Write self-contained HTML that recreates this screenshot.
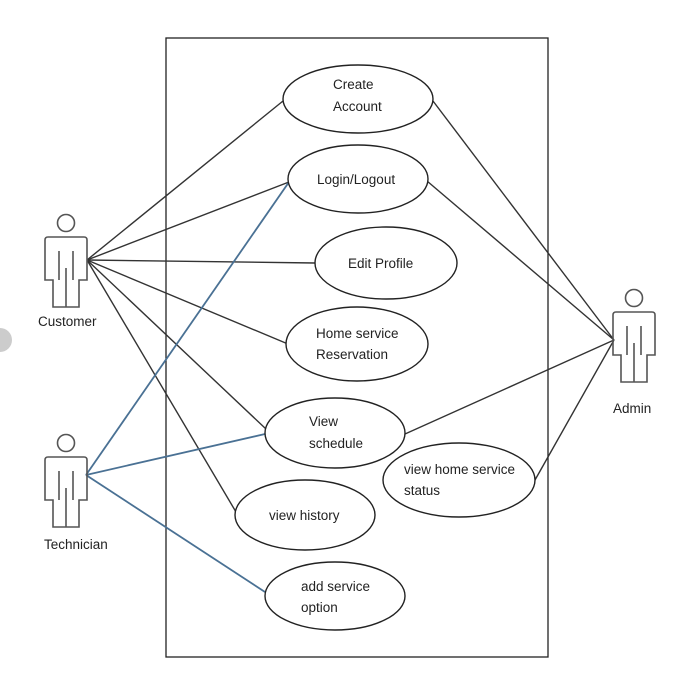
<!DOCTYPE html>
<html><head><style>
body{margin:0;background:#fff;}
svg text{font-family:"Liberation Sans",sans-serif;font-size:13.5px;fill:#222;}
</style></head><body>
<svg width="699" height="681" viewBox="0 0 699 681" xmlns="http://www.w3.org/2000/svg">
<defs>
<g id="actor" fill="none" stroke="#555" stroke-width="1.6">
<circle cx="0" cy="-14" r="8.5"/>
<path d="M-21,3 Q-21,0 -18,0 L18,0 Q21,0 21,3 L21,43 L13,43 L13,70 L-13,70 L-13,43 L-21,43 Z"/>
<path d="M-7,14 V43 M7,14 V43 M0,31 V70"/>
</g>
</defs>
<circle cx="0" cy="340" r="12" fill="#ccc"/>
<rect x="166" y="38" width="382" height="619" fill="none" stroke="#222" stroke-width="1.3"/>
<g stroke="#333" stroke-width="1.4">
<line x1="87" y1="260" x2="283" y2="101"/>
<line x1="87" y1="260" x2="289" y2="182"/>
<line x1="87" y1="260" x2="315" y2="263"/>
<line x1="87" y1="260" x2="288" y2="344"/>
<line x1="87" y1="260" x2="266" y2="429"/>
<line x1="87" y1="260" x2="236" y2="512"/>
<line x1="614" y1="340" x2="433" y2="101"/>
<line x1="614" y1="340" x2="427" y2="181"/>
<line x1="614" y1="340" x2="405" y2="434"/>
<line x1="614" y1="340" x2="535" y2="480"/>
</g>
<g stroke="#4a7194" stroke-width="1.8">
<line x1="86" y1="475" x2="289" y2="182"/>
<line x1="86" y1="475" x2="265" y2="434"/>
<line x1="86" y1="475" x2="265" y2="592"/>
</g>
<g fill="#fff" stroke="#222" stroke-width="1.4">
<ellipse cx="358" cy="99" rx="75" ry="34"/>
<ellipse cx="358" cy="179" rx="70" ry="34"/>
<ellipse cx="386" cy="263" rx="71" ry="36"/>
<ellipse cx="357" cy="344" rx="71" ry="37"/>
<ellipse cx="335" cy="433" rx="70" ry="35"/>
<ellipse cx="459" cy="480" rx="76" ry="37"/>
<ellipse cx="305" cy="515" rx="70" ry="35"/>
<ellipse cx="335" cy="596" rx="70" ry="34"/>
</g>
<use href="#actor" x="66" y="237"/>
<use href="#actor" x="66" y="457"/>
<use href="#actor" x="634" y="312"/>
<text x="38" y="326">Customer</text>
<text x="44" y="549">Technician</text>
<text x="613" y="413">Admin</text>
<text x="333" y="89">Create</text>
<text x="333" y="111">Account</text>
<text x="317" y="184">Login/Logout</text>
<text x="348" y="268">Edit Profile</text>
<text x="316" y="338">Home service</text>
<text x="316" y="359">Reservation</text>
<text x="309" y="426">View</text>
<text x="309" y="448">schedule</text>
<text x="404" y="474">view home service</text>
<text x="404" y="495">status</text>
<text x="269" y="520">view history</text>
<text x="301" y="591">add service</text>
<text x="301" y="612">option</text>
</svg>
</body></html>
